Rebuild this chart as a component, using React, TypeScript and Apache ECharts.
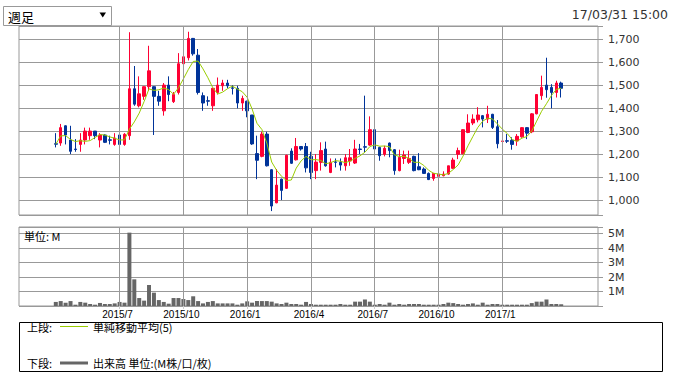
import React, { useEffect, useRef } from 'react';
import * as echarts from 'echarts';

// ---- data (weekly candles, first week 2015-04-06) ----
const FIRST_WEEK = '2015-04-06';
const PAD_BEFORE = 7;
const PAD_AFTER = 7;

const opens = [
  1245, 1248, 1323, 1261, 1222, 1242, 1261, 1280, 1300, 1261,
  1283, 1262, 1242, 1283, 1242, 1280, 1484, 1410, 1451, 1493,
  1493, 1451, 1388, 1500, 1428, 1468, 1593, 1619, 1703, 1630,
  1454, 1432, 1410, 1468, 1497, 1509, 1488, 1486, 1422, 1430,
  1370, 1202, 1190, 1287, 1132, 988, 1091, 1051, 1213, 1175,
  1233, 1233, 1190, 1128, 1164, 1222, 1120, 1166, 1164, 1149,
  1170, 1161, 1222, 1232, 1239, 1306, 1229, 1199, 1248, 1219,
  1128, 1181, 1164, 1190, 1145, 1135, 1116, 1094, 1103, 1106,
  1113, 1138, 1199, 1201, 1294, 1335, 1349, 1367, 1352, 1373,
  1319, 1255, 1258, 1260, 1257, 1275, 1315, 1297, 1375, 1454,
  1500, 1490, 1468, 1509,
];
const closes = [
  1243, 1315, 1283, 1212, 1220, 1261, 1300, 1300, 1280, 1283,
  1251, 1260, 1270, 1242, 1286, 1484, 1417, 1462, 1493, 1562,
  1451, 1430, 1500, 1459, 1459, 1593, 1623, 1703, 1636, 1468,
  1422, 1430, 1486, 1500, 1509, 1497, 1486, 1422, 1442, 1388,
  1244, 1173, 1287, 1149, 974, 1065, 1042, 1195, 1160, 1233,
  1222, 1140, 1120, 1165, 1215, 1149, 1164, 1164, 1152, 1184,
  1184, 1222, 1220, 1230, 1306, 1222, 1193, 1225, 1215, 1128,
  1186, 1196, 1181, 1128, 1132, 1116, 1089, 1116, 1113, 1113,
  1149, 1174, 1215, 1306, 1335, 1352, 1370, 1352, 1373, 1316,
  1245, 1257, 1256, 1242, 1277, 1315, 1291, 1375, 1459, 1490,
  1480, 1468, 1509, 1486,
];
const lows = [
  1229, 1236, 1242, 1200, 1210, 1210, 1242, 1262, 1265, 1229,
  1248, 1242, 1236, 1200, 1236, 1262, 1410, 1403, 1436, 1475,
  1283, 1410, 1367, 1430, 1422, 1459, 1587, 1607, 1628, 1459,
  1388, 1410, 1388, 1459, 1475, 1486, 1459, 1399, 1388, 1360,
  1240, 1091, 1186, 1146, 952, 986, 1000, 1048, 1157, 1172,
  1215, 1120, 1091, 1091, 1128, 1145, 1117, 1142, 1128, 1128,
  1149, 1157, 1200, 1207, 1236, 1219, 1171, 1190, 1186, 1110,
  1125, 1157, 1157, 1125, 1130, 1114, 1087, 1084, 1096, 1103,
  1110, 1135, 1178, 1199, 1291, 1326, 1338, 1316, 1335, 1309,
  1225, 1248, 1248, 1219, 1236, 1271, 1265, 1291, 1373, 1436,
  1445, 1399, 1446, 1446,
];
const highs = [
  1291, 1331, 1325, 1323, 1265, 1291, 1315, 1315, 1300, 1291,
  1286, 1280, 1291, 1286, 1291, 1730, 1583, 1538, 1495, 1671,
  1495, 1475, 1509, 1538, 1470, 1639, 1654, 1732, 1705, 1657,
  1468, 1451, 1488, 1533, 1523, 1523, 1500, 1497, 1454, 1432,
  1370, 1280, 1297, 1297, 1134, 1135, 1093, 1197, 1225, 1270,
  1235, 1248, 1210, 1200, 1251, 1254, 1181, 1181, 1181, 1200,
  1222, 1262, 1244, 1454, 1364, 1308, 1232, 1236, 1250, 1222,
  1219, 1215, 1215, 1193, 1204, 1142, 1120, 1118, 1118, 1125,
  1149, 1184, 1228, 1308, 1373, 1373, 1404, 1370, 1410, 1375,
  1348, 1265, 1287, 1273, 1287, 1317, 1317, 1378, 1461, 1541,
  1619, 1504, 1519, 1515,
];
// volume in millions
const volumes = [
  0.28, 0.34, 0.23, 0.34, 0.09, 0.28, 0.23, 0.14, 0.09, 0.21,
  0.14, 0.14, 0.18, 0.28, 0.23, 5.06, 1.84, 0.55, 0.37, 1.45,
  0.92, 0.41, 0.28, 0.16, 0.55, 0.55, 0.48, 0.41, 0.67, 0.34,
  0.18, 0.28, 0.34, 0.18, 0.18, 0.18, 0.18, 0.09, 0.18, 0.32,
  0.23, 0.34, 0.34, 0.34, 0.30, 0.18, 0.14, 0.23, 0.14, 0.14,
  0.09, 0.28, 0.14, 0.09, 0.09, 0.09, 0.09, 0.09, 0.14, 0.09,
  0.09, 0.30, 0.30, 0.45, 0.30, 0.09, 0.14, 0.09, 0.23, 0.09,
  0.14, 0.09, 0.14, 0.14, 0.14, 0.09, 0.09, 0.09, 0.09, 0.14,
  0.23, 0.20, 0.14, 0.09, 0.14, 0.18, 0.09, 0.23, 0.09, 0.14,
  0.14, 0.09, 0.09, 0.09, 0.09, 0.09, 0.09, 0.20, 0.30, 0.30,
  0.45, 0.14, 0.14, 0.12,
];
const monthLabels = ['2015/7', '2015/10', '2016/1', '2016/4', '2016/7', '2016/10', '2017/1'];
const monthWeeks = [13, 26, 39, 52, 65, 78, 91];
const MA_PERIOD = 5;

// ---- derived ----
const DAY = 86400000;
const firstMs = new Date(FIRST_WEEK + 'T00:00:00Z').getTime();
const pad2 = (n: number) => String(n).padStart(2, '0');
const weekName = (k: number) => {
  const d = new Date(firstMs + k * 7 * DAY);
  return `${d.getUTCFullYear()}/${pad2(d.getUTCMonth() + 1)}/${pad2(d.getUTCDate())}`;
};
const N = opens.length;
const categories = Array.from({ length: PAD_BEFORE + N + PAD_AFTER }, (_, j) => weekName(j - PAD_BEFORE));
const labelAt: Record<number, string> = {};
monthWeeks.forEach((w, k) => { labelAt[w + PAD_BEFORE] = monthLabels[k]; });

const candleData = opens.map((o, i) => [i + PAD_BEFORE, o, closes[i], lows[i], highs[i]]);
const maData = closes.map((_, i) => {
  const s = Math.max(0, i - MA_PERIOD + 1);
  const w = closes.slice(s, i + 1);
  return [i + PAD_BEFORE, Math.round((w.reduce((a, b) => a + b, 0) / w.length) * 10) / 10];
});
const volData = volumes.map((v, i) => [i + PAD_BEFORE, v]);
const vLines = monthWeeks.map((w) => ({ xAxis: w + PAD_BEFORE }));

const GRID_COLOR = '#999';
const UP = '#ff0033';
const DOWN = '#003399';
const MA_COLOR = '#99cc00';
const CJK = '"Noto Sans CJK JP", sans-serif';

export default function App() {
  const ref = useRef<HTMLDivElement>(null);
  useEffect(() => {
    if (!ref.current) return;
    const chart = echarts.init(ref.current, undefined, { renderer: 'svg' });
    const isLabel = (index: number) => labelAt[index] !== undefined;
    chart.setOption({
      animation: false,
      backgroundColor: '#fff',
      textStyle: { fontFamily: 'DejaVu Sans' },
      grid: [
        { left: 19, top: 26, width: 579, height: 189, show: true, borderColor: GRID_COLOR, borderWidth: 1, backgroundColor: '#fff' },
        { left: 19, top: 227, width: 579, height: 79, show: true, borderColor: GRID_COLOR, borderWidth: 1, backgroundColor: '#fff' },
      ],
      xAxis: [
        {
          type: 'category', gridIndex: 0, data: categories, boundaryGap: true,
          axisLine: { show: false }, axisTick: { show: false }, axisLabel: { show: false }, splitLine: { show: false },
        },
        {
          type: 'category', gridIndex: 1, data: categories, boundaryGap: true,
          axisLine: { show: false },
          axisTick: { show: true, alignWithLabel: true, interval: (i: number) => isLabel(i), length: 3, lineStyle: { color: '#ccc' } },
          axisLabel: {
            interval: (i: number) => isLabel(i),
            formatter: (_v: string, i: number) => labelAt[i] ?? '',
            fontSize: 10, lineHeight: 11, fontFamily: 'Liberation Sans', color: '#000', margin: 3,
            padding: [0, 4, 0, 0],
          },
          splitLine: { show: false },
        },
      ],
      yAxis: [
        {
          type: 'value', gridIndex: 0, position: 'right', min: 935, max: 1757, splitNumber: 8,
          axisLine: { show: false },
          axisTick: { show: true, length: 5, lineStyle: { color: GRID_COLOR } },
          axisLabel: {
            formatter: (v: number) => (v % 100 === 0 ? v.toLocaleString('en-US') : ''),
            fontSize: 11, color: '#333', margin: 10, fontFamily: 'DejaVu Sans',
          },
          splitLine: { show: true, lineStyle: { color: GRID_COLOR, width: 1 } },
        },
        {
          type: 'value', gridIndex: 1, position: 'right', min: 0, max: 5.45, interval: 1,
          axisLine: { show: false },
          axisTick: { show: true, length: 5, lineStyle: { color: GRID_COLOR } },
          axisLabel: {
            formatter: (v: number) => (v > 0 && Number.isInteger(v) ? v + 'M' : ''),
            fontSize: 11, color: '#333', margin: 10, fontFamily: 'DejaVu Sans',
          },
          splitLine: { show: true, lineStyle: { color: GRID_COLOR, width: 1 } },
        },
      ],
      series: [
        {
          type: 'line', xAxisIndex: 0, yAxisIndex: 0, data: [], z: 1, silent: true,
          markLine: { silent: true, symbol: 'none', label: { show: false }, lineStyle: { color: GRID_COLOR, width: 1, type: 'solid' }, data: vLines },
        },
        {
          type: 'line', xAxisIndex: 1, yAxisIndex: 1, data: [], z: 1, silent: true,
          markLine: { silent: true, symbol: 'none', label: { show: false }, lineStyle: { color: GRID_COLOR, width: 1, type: 'solid' }, data: vLines },
        },
        {
          type: 'candlestick', xAxisIndex: 0, yAxisIndex: 0, z: 3,
          data: candleData,
          dimensions: ['week', 'open', 'close', 'lowest', 'highest'],
          encode: { x: 0, y: [1, 2, 3, 4] },
          barWidth: 3,
          itemStyle: { color: UP, color0: DOWN, borderColor: UP, borderColor0: DOWN, borderWidth: 1 },
        },
        {
          type: 'line', xAxisIndex: 0, yAxisIndex: 0, z: 4, data: maData,
          showSymbol: false, symbol: 'none', lineStyle: { color: MA_COLOR, width: 1 },
        },
        {
          type: 'bar', xAxisIndex: 1, yAxisIndex: 1, z: 3, data: volData,
          barWidth: 4, itemStyle: { color: '#666' },
        },
      ],
      graphic: [
        { type: 'rect', shape: { x: 3.5, y: 6.5, width: 108, height: 19 }, style: { fill: '#fff', stroke: '#999', lineWidth: 1 } },
        { type: 'text', x: 8, y: 16.5, style: { text: '週足', fontSize: 13, fontFamily: CJK, fill: '#000', verticalAlign: 'middle' } },
        { type: 'polygon', shape: { points: [[99.5, 12.5], [106, 12.5], [102.75, 17.5]] }, style: { fill: '#000' } },
        { type: 'text', x: 668, y: 14.5, style: { text: '17/03/31 15:00', fontSize: 12.5, fontFamily: 'DejaVu Sans', fill: '#333', align: 'right', verticalAlign: 'middle' } },
        { type: 'text', x: 24, y: 236, z: 10, style: { text: '単位: M', fontSize: 11, fontFamily: CJK, fill: '#000', verticalAlign: 'middle' } },
        { type: 'rect', shape: { x: 19.5, y: 322.5, width: 643, height: 49 }, style: { fill: 'none', stroke: '#000', lineWidth: 1 } },
        { type: 'text', x: 27, y: 327, style: { text: '上段:', fontSize: 11, fontFamily: CJK, fill: '#000', verticalAlign: 'middle' } },
        { type: 'line', shape: { x1: 60, y1: 326.5, x2: 88, y2: 326.5 }, style: { stroke: MA_COLOR, lineWidth: 1 } },
        { type: 'text', x: 93, y: 327, style: { text: '単純移動平均(5)', fontSize: 11, fontFamily: CJK, fill: '#000', verticalAlign: 'middle' } },
        { type: 'text', x: 27, y: 363, style: { text: '下段:', fontSize: 11, fontFamily: CJK, fill: '#000', verticalAlign: 'middle' } },
        { type: 'line', shape: { x1: 60, y1: 363, x2: 88, y2: 363 }, style: { stroke: '#666', lineWidth: 3 } },
        { type: 'text', x: 93, y: 363, style: { text: '出来高 単位:(M株/口/枚)', fontSize: 11, fontFamily: CJK, fill: '#000', verticalAlign: 'middle' } },
      ],
    });
    return () => chart.dispose();
  }, []);
  return <div ref={ref} style={{ position: 'absolute', left: 0, top: 0, width: 675, height: 379 }} />;
}
